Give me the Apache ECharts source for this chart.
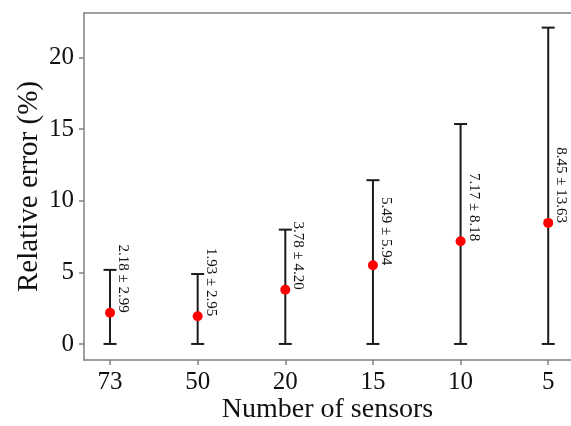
<!DOCTYPE html>
<html>
<head>
<meta charset="utf-8">
<script src="https://cdn.jsdelivr.net/npm/echarts@6/dist/echarts.min.js"></script>
<style>html,body{margin:0;padding:0;background:#fff;overflow:hidden}#c{width:571px;height:426px}</style>
</head>
<body>
<div id="c"></div>
<script>
const categories = ['73', '50', '20', '15', '10', '5'];
const means = [2.18, 1.93, 3.78, 5.49, 7.17, 8.45];
const sds = [2.99, 2.95, 4.20, 5.94, 8.18, 13.63];
const yTicks = [0, 5, 10, 15, 20];

const positions = categories.map((c, i) => i + 1);
const barData = positions.map((p, i) => [p, Math.max(0, means[i] - sds[i]), means[i] + sds[i], means[i]]);
const pointData = positions.map((p, i) => [p, means[i]]);

const font = 'Liberation Serif, Times New Roman, serif';
const axisColor = '#808080';

const chart = echarts.init(document.getElementById('c'), null, {renderer: 'canvas'});
chart.setOption({
  animation: false,
  backgroundColor: '#fff',
  grid: {left: 84, right: 0, top: 13, bottom: 66, show: false, containLabel: false, outerBoundsMode: 'none'},
  xAxis: [{
    type: 'value', min: 0.703, max: 6.26,
    name: 'Number of sensors', nameLocation: 'middle', nameGap: 36, nameMoveOverlap: false,
    nameTextStyle: {fontFamily: font, fontSize: 28, color: '#111'},
    axisLine: {show: true, onZero: false, lineStyle: {color: axisColor, width: 1.5}},
    axisTick: {show: true, length: 5, customValues: positions, lineStyle: {color: axisColor, width: 1.5}},
    axisLabel: {customValues: positions, formatter: v => categories[Math.round(v) - 1], fontFamily: font, fontSize: 25, color: '#111', margin: 10},
    splitLine: {show: false}
  }, {
    type: 'value', position: 'top', min: 0.703, max: 6.26,
    axisLine: {show: true, onZero: false, lineStyle: {color: axisColor, width: 1.5}},
    axisTick: {show: false}, axisLabel: {show: false}, splitLine: {show: false}
  }],
  yAxis: {
    type: 'value', min: -1.12, max: 23.1,
    name: 'Relative error (%)', nameLocation: 'middle', nameGap: 40, nameMoveOverlap: false,
    nameTextStyle: {fontFamily: font, fontSize: 29, color: '#111'},
    axisLine: {show: true, onZero: false, lineStyle: {color: axisColor, width: 1.5}},
    axisTick: {show: true, length: 5, customValues: yTicks, lineStyle: {color: axisColor, width: 1.5}},
    axisLabel: {customValues: yTicks, fontFamily: font, fontSize: 25, color: '#111', margin: 10},
    splitLine: {show: false}
  },
  series: [
    {
      type: 'custom',
      data: barData,
      z: 3,
      renderItem: function (params, api) {
        const x = api.value(0);
        const lo = api.coord([x, api.value(1)]);
        const hi = api.coord([x, api.value(2)]);
        const m = api.coord([x, api.value(3)]);
        const idx = params.dataIndex;
        const cap = 6.5;
        const st = {stroke: '#1a1a1a', lineWidth: 2};
        return {
          type: 'group',
          children: [
            {type: 'line', shape: {x1: lo[0], y1: lo[1], x2: hi[0], y2: hi[1]}, style: st},
            {type: 'line', shape: {x1: lo[0] - cap, y1: lo[1], x2: lo[0] + cap, y2: lo[1]}, style: st},
            {type: 'line', shape: {x1: hi[0] - cap, y1: hi[1], x2: hi[0] + cap, y2: hi[1]}, style: st},
            {type: 'text', x: m[0] + 13, y: m[1], rotation: -Math.PI / 2,
              style: {text: means[idx].toFixed(2) + ' ± ' + sds[idx].toFixed(2), fontFamily: font, fontSize: 15, fill: '#111', align: 'right', verticalAlign: 'middle'}}
          ]
        };
      }
    },
    {
      type: 'scatter',
      data: pointData,
      z: 4,
      symbol: 'circle',
      symbolSize: 10,
      itemStyle: {color: '#ff0000', opacity: 1}
    }
  ]
});
</script>
</body>
</html>
